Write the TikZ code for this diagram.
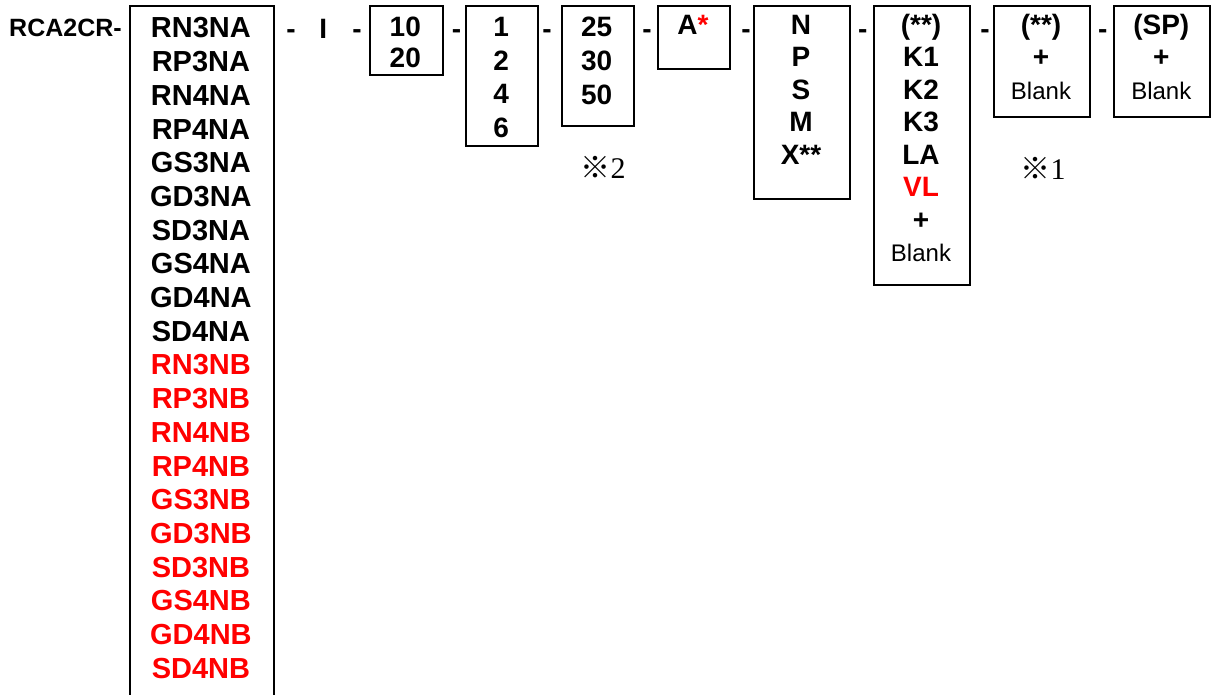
\documentclass[tikz,border=0pt]{standalone}
\usepackage{fontspec}
\setmainfont{Liberation Sans}
\newfontfamily\markfont{Noto Sans CJK JP}
\newfontfamily\notefont{Liberation Serif}
\newcommand{\blankfont}{\mdseries\fontsize{24}{32.5}\selectfont}

\begin{document}
\begin{tikzpicture}[x=1pt, y=-1pt,
	codebox/.style={draw, line width=2pt, inner sep=0pt, anchor=north west},
	codetext/.style={anchor=north, align=center, inner sep=0pt, font=\bfseries\fontsize{28}{32.5}\selectfont},
	widetext/.style={codetext, font=\bfseries\fontsize{28}{33.7}\selectfont},
	sep/.style={anchor=base, inner sep=0pt, font=\bfseries\fontsize{28}{32.5}\selectfont},
	note/.style={inner sep=0pt, font=\fontsize{30}{30}\selectfont}]
	\useasboundingbox (0, 0) rectangle (1211, 694);
	% boxes
	\node[codebox, minimum width=144.8, minimum height=700] (series) at (128.5, 5) {};
	\node[codebox, minimum width=72.7, minimum height=69] (size) at (369, 5) {};
	\node[codebox, minimum width=72.3, minimum height=140] (ratio) at (465, 5) {};
	\node[codebox, minimum width=72, minimum height=120] (stroke) at (560.7, 5) {};
	\node[codebox, minimum width=72.6, minimum height=63.3] (motor) at (656.7, 5) {};
	\node[codebox, minimum width=96.6, minimum height=192.7] (cable) at (752.7, 5) {};
	\node[codebox, minimum width=96.6, minimum height=279] (option) at (872.7, 5) {};
	\node[codebox, minimum width=96.6, minimum height=111] (extra) at (992.7, 5) {};
	\node[codebox, minimum width=96, minimum height=111] (special) at (1113.3, 5) {};
	% texts
	\node[inner sep=0pt, anchor=base west, font=\bfseries\fontsize{25}{25}\selectfont] (model) at (9, 36.5) {RCA2CR-};
	\node[widetext, font=\bfseries\fontsize{29}{33.7}\selectfont] (seriestext) at (200.9, 17.5) {RN3NA\\RP3NA\\RN4NA\\RP4NA\\GS3NA\\GD3NA\\SD3NA\\GS4NA\\GD4NA\\SD4NA\\
		\textcolor{red}{RN3NB}\\\textcolor{red}{RP3NB}\\\textcolor{red}{RN4NB}\\\textcolor{red}{RP4NB}\\\textcolor{red}{GS3NB}\\
		\textcolor{red}{GD3NB}\\\textcolor{red}{SD3NB}\\\textcolor{red}{GS4NB}\\\textcolor{red}{GD4NB}\\\textcolor{red}{SD4NB}};
	\node[codetext, font=\bfseries\fontsize{28}{31}\selectfont] (sizetext) at (405.3, 16.5) {10\\20};
	\node[widetext] (ratiotext) at (501.2, 17) {1\\2\\4\\6};
	\node[widetext] (stroketext) at (596.7, 17) {25\\30\\50};
	\node[codetext] (motortext) at (693, 15) {A\textcolor{red}{*}};
	\node[codetext] (cabletext) at (801, 14.8) {N\\P\\S\\M\\X**};
	\node[codetext] (optiontext) at (921, 14) {(**)\\K1\\K2\\K3\\LA\\\textcolor{red}{VL}\\+\\{\blankfont Blank}};
	\node[codetext] (extratext) at (1041, 14) {(**)\\+\\{\blankfont Blank}};
	\node[codetext] (specialtext) at (1161.3, 14) {(SP)\\+\\{\blankfont Blank}};
	% separators
	\node[sep] (d1) at (291, 38.5) {-};
	\node[sep] (type) at (323.3, 38.5) {I};
	\node[sep] (d2) at (357, 38.5) {-};
	\node[sep] (d3) at (456.5, 38.5) {-};
	\node[sep] (d4) at (547, 38.5) {-};
	\node[sep] (d5) at (647, 38.5) {-};
	\node[sep] (d6) at (746, 38.5) {-};
	\node[sep] (d7) at (862.7, 38.5) {-};
	\node[sep] (d8) at (985, 38.5) {-};
	\node[sep] (d9) at (1102.7, 38.5) {-};
	% notes
	\node[note] (note2) at (603, 167) {{\markfont ※}{\notefont 2}};
	\node[note] (note1) at (1043, 168) {{\markfont ※}{\notefont 1}};
\end{tikzpicture}
\end{document}
